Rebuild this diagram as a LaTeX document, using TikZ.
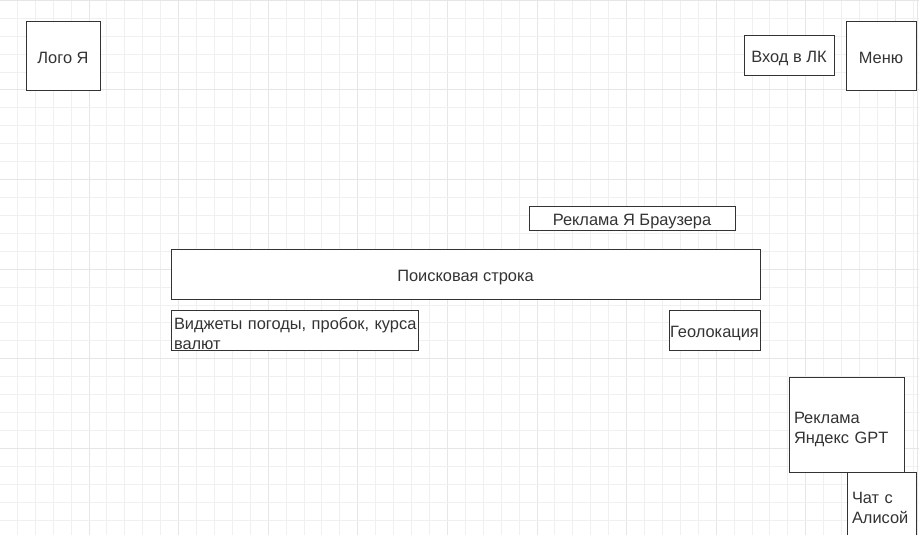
\documentclass[tikz,border=0pt]{standalone}
\usepackage{fontspec}
\setmainfont{Liberation Sans}
\definecolor{gridc}{HTML}{F0F0F0}
\definecolor{gridm}{HTML}{E6E6E6}
\definecolor{boxc}{HTML}{333333}
\begin{document}
\begin{tikzpicture}[x=1pt,y=-1pt,
  box/.style={draw=boxc,line width=1pt,fill=white,inner sep=0pt,text=boxc,font=\fontsize{16.4}{20}\selectfont,text height=14pt,text depth=0pt},
  lbox/.style={box,align=left,inner xsep=5pt,text height=10pt,text depth=12pt}]
\useasboundingbox (0,0) rectangle (919,535);
\clip (0,0) rectangle (919,535);
\fill[white] (0,0) rectangle (919,535);
\foreach \i in {0,...,52} {\pgfmathsetmacro{\c}{mod(\i,5)==0?1:0}
  \ifdim\c pt>0.5pt \def\gc{gridm}\else\def\gc{gridc}\fi
  \draw[\gc,line width=1pt] (-0.6+\i*17.92,0) -- (-0.6+\i*17.92,535);}
\foreach \j in {0,...,30} {\pgfmathsetmacro{\c}{mod(\j,5)==0?1:0}
  \ifdim\c pt>0.5pt \def\gc{gridm}\else\def\gc{gridc}\fi
  \draw[\gc,line width=1pt] (0,0.4+\j*17.92) -- (919,0.4+\j*17.92);}
\draw[gridm,line width=1pt] (917.5,0) -- (917.5,535);
\node[box,minimum width=74pt,minimum height=69pt] (logo) at (63,56.5) {Лого Я};
\node[box,minimum width=90pt,minimum height=40pt] (lk) at (789,56) {Вход в ЛК};
\node[box,minimum width=70pt,minimum height=69pt] (menu) at (881,56.5) {Меню};
\node[box,minimum width=206pt,minimum height=24pt] (adbr) at (632,218) {Реклама Я Браузера};
\node[box,minimum width=589pt,minimum height=50pt] (search) at (465.5,274) {Поисковая строка};
\node[lbox,inner xsep=3pt,text width=241pt,minimum height=40pt] (widg) at (294.5,330) {\mbox{Виджеты погоды, пробок, курса}\\валют};
\node[box,minimum width=91pt,minimum height=40pt] (geo) at (714.5,330) {Геолокация};
\node[lbox,text width=105pt,minimum height=95pt] (gpt) at (846.5,424.5) {Реклама\\Яндекс GPT};
\node[lbox,text width=59pt,minimum height=70pt,text depth=18pt] (chat) at (881.5,507) {Чат с\\Алисой};
\end{tikzpicture}
\end{document}
